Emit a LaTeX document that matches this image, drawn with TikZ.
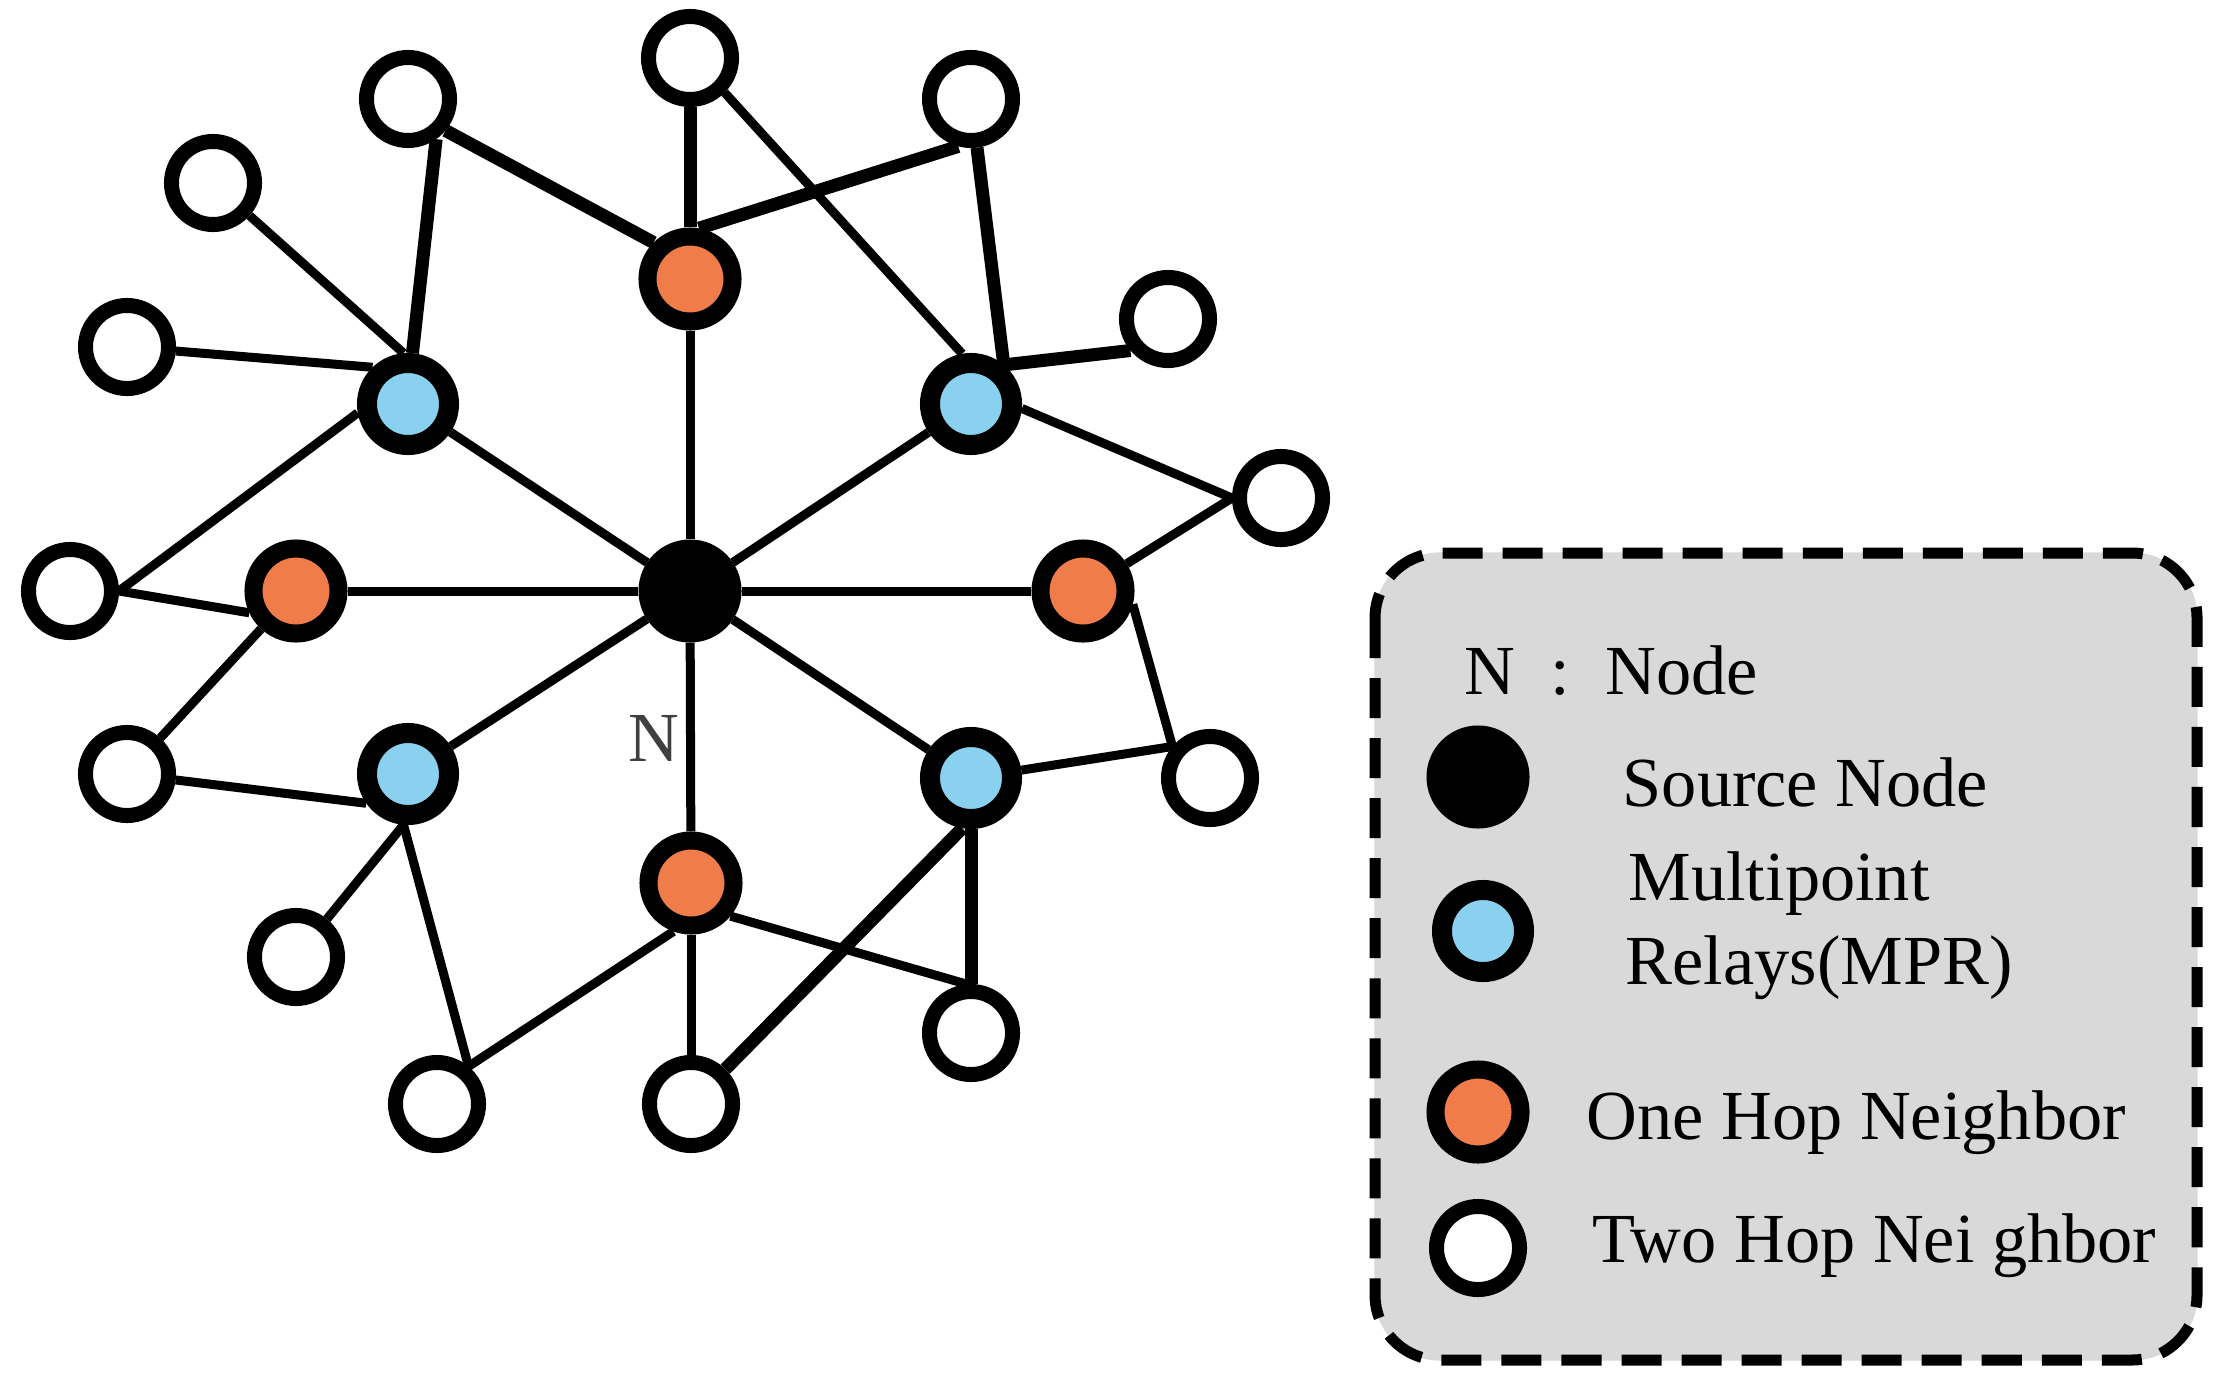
\documentclass[tikz,border=0pt]{standalone}
\usepackage{fontspec}
\setmainfont{Liberation Serif}
\usetikzlibrary{positioning}
\pgfdeclarelayer{bg}
\pgfsetlayers{bg,main}
\definecolor{mprblue}{RGB}{137,209,239}
\definecolor{hoporange}{RGB}{240,124,74}
\definecolor{keygray}{RGB}{217,217,217}

\begin{document}
\begin{tikzpicture}[x = 0.01cm, y = -0.01cm,
  src/.style = {circle, fill = black, draw, line width = 0.03cm, minimum size = 1.0cm, inner sep = 0},
  mpr/.style = {circle, fill = mprblue, draw, line width = 0.2cm, minimum size = 0.82cm, inner sep = 0},
  one/.style = {circle, fill = hoporange, draw, line width = 0.18cm, minimum size = 0.85cm, inner sep = 0},
  two/.style = {circle, fill = white, draw, line width = 0.15cm, minimum size = 0.83cm, inner sep = 0},
  link/.style = {line width = 0.09cm},
  heavy/.style = {line width = 0.13cm},
  txt/.style = {anchor = base west, inner sep = 0, font = \fontsize{20}{24}\selectfont}]
\useasboundingbox (0, 0) rectangle (2219, 1379);

\node[src] (S) at (690, 591) {};
\node[one] (T) at (690, 279) {};
\node[one] (L) at (296, 591) {};
\node[one] (R) at (1083, 591) {};
\node[one] (B) at (691, 883) {};
\node[mpr] (M1) at (408, 404) {};
\node[mpr] (M2) at (971, 404) {};
\node[mpr] (M3) at (408, 774) {};
\node[mpr] (M4) at (971, 778) {};

\node[two] (W1) at (690, 58) {};
\node[two] (W2) at (408, 99) {};
\node[two] (W3) at (971, 99) {};
\node[two] (W4) at (213, 183) {};
\node[two] (W5) at (127, 347) {};
\node[two] (W6) at (1168, 319) {};
\node[two] (W7) at (1281, 498) {};
\node[two] (W8) at (70, 591) {};
\node[two] (W9) at (127, 774) {};
\node[two] (W10) at (1210, 778) {};
\node[two] (W11) at (296, 957) {};
\node[two] (W12) at (971, 1033) {};
\node[two] (W13) at (437, 1104) {};
\node[two] (W14) at (691, 1104) {};

\node[font = \fontsize{20}{24}\selectfont, text = black!75, inner sep = 0] (lblN) at (654, 738) {N};

\begin{pgfonlayer}{bg}
\draw[keygray, fill = keygray, rounded corners = 0.65cm] (1375, 553) rectangle (2197, 1360);
\draw[line width = 0.11cm, dash pattern = on 0.4cm off 0.2cm, rounded corners = 0.65cm] (1375, 553) rectangle (2197, 1360);

\draw[link] (S) -- (T);
\draw[link] (S) -- (L);
\draw[link] (S) -- (R);
\draw[link] (S) -- (B);
\draw[link] (S) -- (M1);
\draw[link] (S) -- (M2);
\draw[link] (S) -- (M3);
\draw[link] (S) -- (M4);

\draw[heavy] (W1) -- (T);
\draw[heavy] (W2.-40) -- (T.135);
\draw[heavy] (T.80) -- (W3.-105);
\draw[link] (W1.-45) -- (M2.100);
\draw[heavy] (W3) -- (M2.50);
\draw[heavy] (M2.50) -- (W6.220);
\draw[link] (M2.-5) -- (W7.180);
\draw[link] (W7.180) -- (R);
\draw[link] (R.-15) -- (W10.140);
\draw[link] (M4) -- (W10.140);
\draw[heavy] (M4) -- (W12);
\draw[heavy] (M4.-100) -- (W14);
\draw[link] (B.-40) -- (W12.95);
\draw[link] (B) -- (W14);
\draw[link] (B.-110) -- (W13.50);
\draw[link] (M3.-95) -- (W13.50);
\draw[link] (M3.-95) -- (W11);
\draw[link] (M3.215) -- (W9);
\draw[link] (L) -- (W9);
\draw[link] (L.205) -- (W8.0);
\draw[link] (M1.190) -- (W8.0);
\draw[link] (M1.134) -- (W5);
\draw[link] (M1.95) -- (W4);
\draw[heavy] (M1.85) -- (W2.-55);
\end{pgfonlayer}

% legend
\node[src] (K1) at (1478, 777) {};
\node[mpr] (K2) at (1483, 931) {};
\node[one] (K3) at (1478, 1112) {};
\node[two] (K4) at (1478, 1248) {};

\node[txt] (keyN) at (1464, 694) {N\ \ :\ \ Node};
\node[txt] (keyS) at (1622, 806) {Source Node};
\node[txt] (keyM1) at (1628, 900) {Multipoint};
\node[txt] (keyM2) at (1625, 984) {Relays(MPR)};
\node[txt] (keyO) at (1586, 1139) {One Hop Neighbor};
\node[txt] (keyT) at (1592, 1262) {Two Hop Nei ghbor};

\end{tikzpicture}
\end{document}
